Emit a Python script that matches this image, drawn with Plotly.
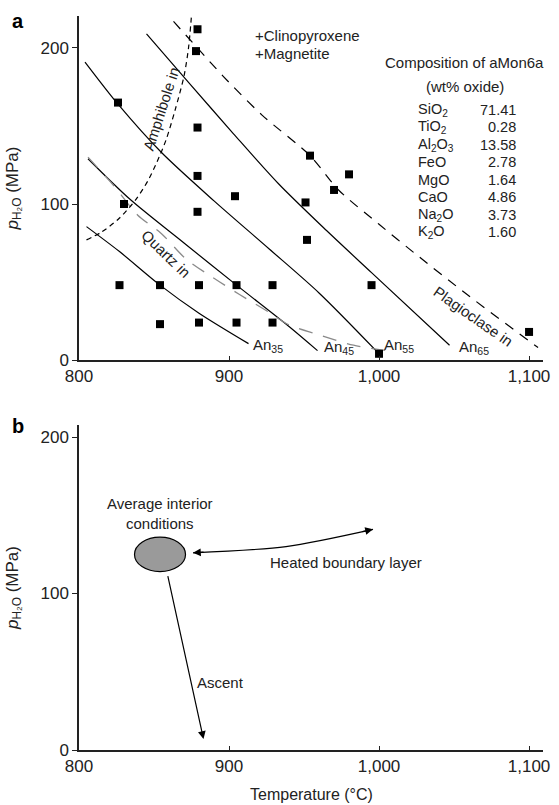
import plotly.graph_objects as go

# ---------------- data: panel a ----------------
exp_T = [879, 878, 826, 879, 879, 904, 830, 879, 827, 854, 880, 905, 929,
         854, 880, 905, 929, 954, 980, 970, 951, 952, 995, 1000, 1100]
exp_P = [212, 198, 165, 149, 118, 105, 100, 95, 48, 48, 48, 48, 48,
         23, 24, 24, 24, 131, 119, 109, 101, 77, 48, 4, 18]

an35_T = [805, 827, 854, 880, 913]
an35_P = [85.5, 69.5, 48, 30, 10.5]
an45_T = [806, 834, 870, 905, 940, 959]
an45_P = [129, 103, 75, 48, 21.5, 6]
an55_T = [804, 826, 855, 890, 927, 960, 998]
an55_P = [191, 164, 133, 102, 71, 43, 6]
an65_T = [845, 873, 903, 933, 965, 995, 1047]
an65_P = [209, 178, 145, 113, 83, 56, 9.5]

plag_T = [863, 879, 896, 922, 954, 973, 1000, 1023, 1060, 1106]
plag_P = [217, 200, 182, 157, 131, 109, 87, 69, 41, 8]
amph_T = [805, 815, 827, 838, 846, 852, 858, 864, 870, 873, 875]
amph_P = [77, 82, 91, 103, 115, 127, 141, 160, 182, 200, 221]
quartz_T = [806, 823, 839, 855, 871, 889, 907, 926, 940, 962, 983, 1005]
quartz_P = [130, 112, 93, 81, 65, 53, 42, 31, 22.5, 15.5, 9.5, 6]

an_labels = ["An<sub>35</sub>", "An<sub>45</sub>", "An<sub>55</sub>", "An<sub>65</sub>"]
an_label_T = [926, 973, 1013, 1063]
an_label_P = [9, 8, 9.5, 8]

oxides = ["SiO<sub>2</sub>", "TiO<sub>2</sub>", "Al<sub>2</sub>O<sub>3</sub>", "FeO",
          "MgO", "CaO", "Na<sub>2</sub>O", "K<sub>2</sub>O"]
wt_pct = [71.41, 0.28, 13.58, 2.78, 1.64, 4.86, 3.73, 1.60]

# ---------------- data: panel b ----------------
avg_T, avg_P = 854, 125
avg_dT, avg_dP = 17, 11
ascent_T = [859, 883]
ascent_P = [112, 7]
heated_T = [876, 938, 996]
heated_P = [126, 130, 141]

x_ticks = [800, 900, 1000, 1100]
x_ticktext = ["800", "900", "1,000", "1,100"]
y_ticks = [0, 100, 200]

FONT = "Liberation Sans, Arial, Helvetica, sans-serif"
INK = "#222222"

fig = go.Figure()

def line(xs, ys, dash="solid", color="black", width=1.2, xa="x", ya="y"):
    fig.add_trace(go.Scatter(x=xs, y=ys, mode="lines", xaxis=xa, yaxis=ya,
                             line=dict(color=color, width=width, dash=dash,
                                       shape="spline", smoothing=0.8),
                             hoverinfo="skip", showlegend=False))

for T, P in [(an35_T, an35_P), (an45_T, an45_P), (an55_T, an55_P), (an65_T, an65_P)]:
    line(T, P)
line(quartz_T, quartz_P, dash="14px,11px", color="#8a8a8a", width=1.3)
line(plag_T, plag_P, dash="10px,8px")
line(amph_T, amph_P, dash="5px,4px")

fig.add_trace(go.Scatter(x=exp_T, y=exp_P, mode="markers", xaxis="x", yaxis="y",
                         marker=dict(symbol="square", size=8, color="black"),
                         showlegend=False))

# panel b heated boundary layer curve
line(heated_T, heated_P, xa="x2", ya="y2")

ann = []
tf = dict(family=FONT, size=15, color=INK)
tab = dict(family=FONT, size=14.5, color=INK)
for lab, t, p in zip(an_labels, an_label_T, an_label_P):
    ann.append(dict(x=t, y=p, xref="x", yref="y", text=lab, showarrow=False,
                    font=dict(family=FONT, size=15, color=INK)))

ann.append(dict(x=916, y=208, xref="x", yref="y", text="+Clinopyroxene", xanchor="left",
                showarrow=False, font=tf))
ann.append(dict(x=916, y=196.5, xref="x", yref="y", text="+Magnetite", xanchor="left",
                showarrow=False, font=tf))
ann.append(dict(x=1057, y=191, xref="x", yref="y", text="Composition of aMon6a",
                showarrow=False, font=tf))
ann.append(dict(x=1057, y=175, xref="x", yref="y", text="(wt% oxide)",
                showarrow=False, font=tf))
for i, (ox, v) in enumerate(zip(oxides, wt_pct)):
    rp = 160.3 - i * 11.2
    ann.append(dict(x=1025.4, y=rp, xref="x", yref="y", text=ox, xanchor="left",
                    showarrow=False, font=tab, borderpad=0))
    ann.append(dict(x=1092, y=rp, xref="x", yref="y", text=f"{v:.2f}", xanchor="right",
                    showarrow=False, font=tab, borderpad=0))

ann.append(dict(x=858, y=68.5, xref="x", yref="y", text="Quartz in", textangle=44,
                showarrow=False, font=tf))
ann.append(dict(x=1063, y=28, xref="x", yref="y", text="Plagioclase in", textangle=35,
                showarrow=False, font=tf))
ann.append(dict(x=855, y=161, xref="x", yref="y", text="Amphibole in", textangle=-72,
                showarrow=False, font=tf))

# panel labels
ann.append(dict(x=-0.131, y=0.993, xref="paper", yref="paper", text="<b>a</b>",
                xanchor="center", yanchor="middle",
                showarrow=False, font=dict(family=FONT, size=20, color="black")))
ann.append(dict(x=-0.131, y=0.441, xref="paper", yref="paper", text="<b>b</b>",
                xanchor="center", yanchor="middle",
                showarrow=False, font=dict(family=FONT, size=20, color="black")))

# x-axis title of panel b
ann.append(dict(x=0.5, y=-0.0613, xref="paper", yref="paper", text="Temperature (°C)",
                xanchor="center", yanchor="middle", showarrow=False,
                font=dict(family=FONT, size=16, color=INK)))

# panel b texts and arrows
ann.append(dict(x=avg_T, y=151, xref="x2", yref="y2",
                text="Average interior<br>conditions", showarrow=False, font=tf))
ann.append(dict(x=925.7, y=120, xref="x2", yref="y2", text="Heated boundary layer",
                xanchor="left", showarrow=False, font=tf))
ann.append(dict(x=877.5, y=43, xref="x2", yref="y2", text="Ascent",
                xanchor="left", showarrow=False, font=tf))
ann.append(dict(x=ascent_T[1], y=ascent_P[1], ax=ascent_T[0], ay=ascent_P[0],
                xref="x2", yref="y2", axref="x2", ayref="y2", text="",
                showarrow=True, arrowhead=2, arrowsize=1.3, arrowwidth=1.2,
                arrowcolor="black", standoff=0))
ann.append(dict(x=heated_T[0], y=heated_P[0], ax=heated_T[0] + 8, ay=heated_P[0] + 0.5,
                xref="x2", yref="y2", axref="x2", ayref="y2", text="",
                showarrow=True, arrowhead=2, arrowsize=1.3, arrowwidth=1.2,
                arrowcolor="black", standoff=0))
ann.append(dict(x=heated_T[-1], y=heated_P[-1], ax=heated_T[-1] - 8, ay=heated_P[-1] - 1.7,
                xref="x2", yref="y2", axref="x2", ayref="y2", text="",
                showarrow=True, arrowhead=2, arrowsize=1.3, arrowwidth=1.2,
                arrowcolor="black", standoff=0))

shapes = [dict(type="circle", xref="x2", yref="y2",
               x0=avg_T - avg_dT, x1=avg_T + avg_dT, y0=avg_P - avg_dP, y1=avg_P + avg_dP,
               fillcolor="#9a9a9a", line=dict(color="black", width=1.2), layer="above")]

axis_common = dict(showline=True, linecolor=INK, linewidth=1.5,
                   tickwidth=1.2, tickcolor=INK, showgrid=False,
                   zeroline=False, tickfont=dict(family=FONT, size=17, color=INK))
xaxis_common = dict(ticks="inside", ticklen=4, **axis_common)
yaxis_common = dict(ticks="outside", ticklen=5, **axis_common)
ytitle = dict(text="<i>p</i><sub>H₂O</sub> (MPa)", font=dict(family=FONT, size=17, color=INK),
              standoff=18)

fig.update_layout(
    width=559, height=805,
    margin=dict(l=79, r=16, t=16, b=55, autoexpand=False),
    paper_bgcolor="white", plot_bgcolor="white",
    showlegend=False,
    xaxis=dict(domain=[0, 1], anchor="y", range=[800, 1109.3], tickvals=x_ticks,
               ticktext=x_ticktext, **xaxis_common),
    yaxis=dict(domain=[0.5313, 1], anchor="x", range=[0, 220.5], tickvals=y_ticks,
               title=ytitle, **yaxis_common),
    xaxis2=dict(domain=[0, 1], anchor="y2", range=[800, 1109.3], tickvals=x_ticks,
                ticktext=x_ticktext, **xaxis_common),
    yaxis2=dict(domain=[0, 0.4428], anchor="x2", range=[0, 207.7], tickvals=y_ticks,
                title=ytitle, **yaxis_common),
    annotations=ann,
    shapes=shapes,
)

fig.write_html("out.html", config={"displayModeBar": False},
               post_script="document.body.style.margin='0px';document.body.style.padding='0px';")
